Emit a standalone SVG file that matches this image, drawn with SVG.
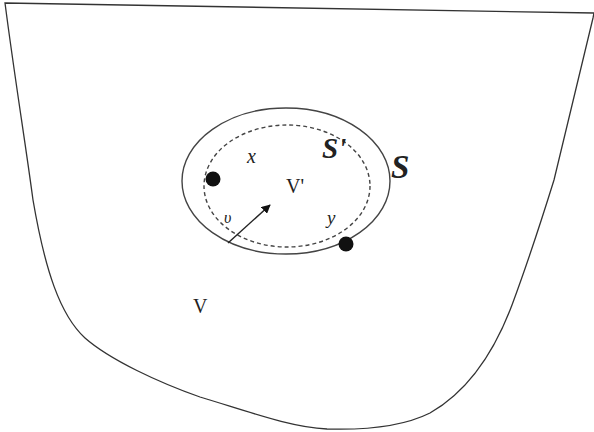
<svg xmlns="http://www.w3.org/2000/svg" width="594" height="432" viewBox="0 0 594 432">
<style>
.ln{fill:none;stroke:#333;stroke-width:1.3}
.el{fill:none;stroke:#444;stroke-width:1.4}
.ds{fill:none;stroke:#444;stroke-width:1.4;stroke-dasharray:4 3}
.t{font-family:"Liberation Serif",serif;fill:#222}
.i{font-style:italic}
.b{font-weight:bold;font-style:italic}
</style>
<defs>
<marker id="ah" viewBox="0 0 10 10" refX="9" refY="5" markerWidth="9" markerHeight="9" orient="auto" markerUnits="userSpaceOnUse">
<path d="M0,0 L10,5 L0,10 Z" fill="#111"/>
</marker>
</defs>
<rect width="594" height="432" fill="#fff"/>
<g id="region-V">
<path class="ln" d="M5,3 L594,13 L593,18 L554,180 C540,225 525,270 512,305 C495,350 470,390 430,413 C400,428 360,430 327,429 C290,427 250,412 200,397 C160,383 110,360 85,338 C60,315 45,270 33,200 C25,140 15,80 5,3 Z"/>
<text class="t" x="193" y="313" font-size="20">V</text>
</g>
<g id="surface-S">
<ellipse class="el" cx="286" cy="181" rx="104" ry="73"/>
<text class="t b" x="391" y="178" font-size="33">S</text>
</g>
<g id="surface-S-prime">
<ellipse class="ds" cx="287" cy="186" rx="83" ry="61"/>
<text class="t b" x="322" y="158" font-size="29">S'</text>
<text class="t" x="286" y="193" font-size="20">V'</text>
</g>
<g id="point-x">
<circle cx="213" cy="179" r="7.5" fill="#111"/>
<text class="t i" x="247" y="163" font-size="20">x</text>
</g>
<g id="point-y">
<circle cx="346" cy="244" r="7.5" fill="#111"/>
<text class="t i" x="327" y="224" font-size="19">y</text>
</g>
<g id="connectors">
<line x1="228" y1="243" x2="270" y2="205" stroke="#222" stroke-width="1.4" marker-end="url(#ah)"/>
<text class="t i" x="224" y="223" font-size="16">υ</text>
</g>
</svg>
